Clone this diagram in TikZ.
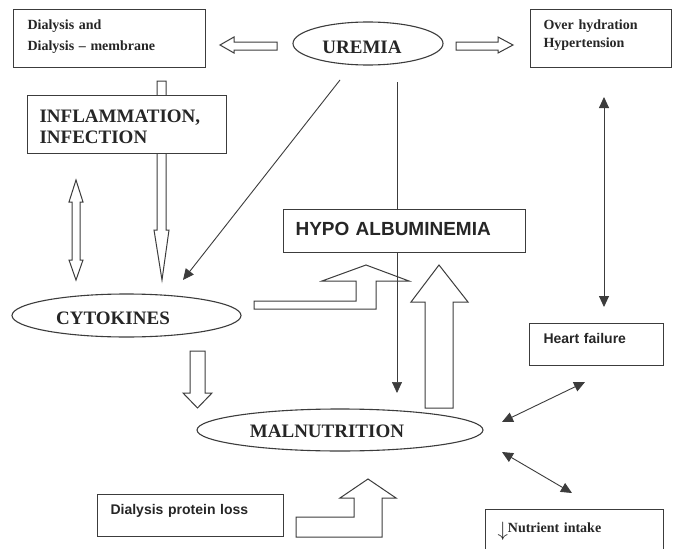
\documentclass[tikz,border=0pt]{standalone}
\usepackage{fontspec}
\setmainfont{Liberation Serif}
\setsansfont{Liberation Sans}
\usetikzlibrary{shapes.geometric,arrows.meta,calc}
\definecolor{ln}{HTML}{3C3C3C}
\definecolor{tx}{HTML}{262626}
\begin{document}
\begin{tikzpicture}[x=1pt,y=-1pt,
  box/.style={draw=ln,line width=1.1pt,fill=white,anchor=north west,align=left,text=tx,text height=10pt},
  oval/.style={ellipse,draw=ln,line width=1.1pt,fill=white,inner sep=0pt,text=tx},
  blk/.style={draw=ln,line width=1pt,fill=white,line join=miter},
  conn/.style={draw=ln,line width=0.9pt},
  tipb/.style={-{Triangle[length=11pt,width=10pt]}},
  tipbb/.style={{Triangle[length=11pt,width=10pt]}-{Triangle[length=11pt,width=10pt]}},
  serS/.style={font=\fontsize{14}{21}\selectfont\bfseries},
  sanS/.style={font=\fontsize{14}{17}\selectfont\sffamily\bfseries},
  bigS/.style={font=\fontsize{19}{19}\selectfont\bfseries}
]
\useasboundingbox (0,0) rectangle (673,549);
\fill[white] (0,0) rectangle (673,549);

% block arrows drawn below boxes
\draw[blk] (157,81) -- (166,81) -- (166,230) -- (169,230) -- (162,280) -- (154,230) -- (157,230) -- cycle;
\draw[blk] (76,180) -- (83,202) -- (80,202) -- (80,260) -- (83,260) -- (76,280) -- (69,260) -- (72,260) -- (72,202) -- (69,202) -- cycle;
\draw[blk] (220,45) -- (234,37) -- (234,42) -- (277,42) -- (277,50) -- (234,50) -- (234,53) -- cycle;
\draw[blk] (456,42) -- (498,42) -- (498,37) -- (513,45) -- (498,53) -- (498,50) -- (456,50) -- cycle;
\draw[blk] (190,351) -- (205,351) -- (205,393) -- (212,393) -- (197.5,408) -- (183,393) -- (190,393) -- cycle;
\draw[blk] (254,301) -- (356,301) -- (356,281) -- (322,281) -- (366,265) -- (409,281) -- (376,281) -- (376,309) -- (254,309) -- cycle;
\draw[blk] (439,265) -- (468,302) -- (453,302) -- (453,408) -- (425,408) -- (425,302) -- (411,302) -- cycle;
\draw[blk] (296,517) -- (354,517) -- (354,498) -- (340,498) -- (368,479) -- (396,498) -- (382,498) -- (382,537) -- (296,537) -- cycle;

% thin vertical line uremia -> malnutrition (behind hypo box)
\coordinate (u2) at (397,82);
\coordinate (m1) at (397,393);
\draw[conn,line width=0.7pt,tipb] (u2) -- (m1);

% boxes
\node[box,serS,minimum width=192pt,minimum height=58pt,text width=164pt,inner xsep=14pt,text depth=27.4pt] (dial) at (13,9) {Dialysis and\\Dialysis – membrane};
\node[box,font=\fontsize{14}{17.4}\selectfont\bfseries,minimum width=141pt,minimum height=58pt,text width=115pt,inner xsep=13pt,text depth=27.4pt] (over) at (530,9) {Over hydration\\Hypertension};
\node[box,font=\fontsize{19}{21.6}\selectfont\bfseries,minimum width=199pt,minimum height=58pt,text width=175pt,inner xsep=12pt,text depth=14.6pt] (infl) at (27,95) {INFLAMMATION,\\INFECTION};
\node[box,font=\fontsize{19}{19}\selectfont\sffamily\bfseries,minimum width=242pt,minimum height=43pt,text width=218pt,inner xsep=12pt,text depth=1pt] (hypo) at (283,209) {HYPO ALBUMINEMIA};
\node[box,sanS,minimum width=134pt,minimum height=42pt,text width=106pt,inner xsep=14pt,text depth=11.4pt] (heart) at (529,323) {Heart failure};
\node[box,sanS,minimum width=186pt,minimum height=42pt,text width=160pt,inner xsep=13pt,text depth=12pt] (dpl) at (97,494) {Dialysis protein loss};
\node[box,serS,minimum width=178pt,minimum height=55pt,text width=154pt,inner xsep=12pt,text depth=19pt] (nutr) at (485,509) {\raisebox{-4pt}{\fontsize{20}{20}\selectfont$\downarrow$}Nutrient intake};

% ellipses
\node[oval,bigS,minimum width=150pt,minimum height=43pt,text height=20pt,text depth=0.4pt] (uremia) at (368,43.5) {UREMIA\hspace*{12pt}};
\node[oval,bigS,minimum width=229pt,minimum height=43pt,text height=18pt,text depth=1pt] (cyto) at (126.5,315.5) {CYTOKINES\hspace*{27pt}};
\node[oval,bigS,minimum width=286pt,minimum height=42pt,text height=16pt,text depth=1.4pt] (maln) at (340,430) {MALNUTRITION\hspace*{26pt}};

% thin connectors
\coordinate (u1) at (340,80);
\coordinate (c1) at (183,280);
\draw[conn,tipb] (u1) -- (c1);
\coordinate (o1) at (604,97);
\coordinate (h1) at (604,307);
\draw[conn,tipbb] (o1) -- (h1);
\coordinate (m2) at (502,422);
\coordinate (h2) at (585,382);
\draw[conn,tipbb] (m2) -- (h2);
\coordinate (m3) at (502,452);
\coordinate (n1) at (572,493);
\draw[conn,tipbb] (m3) -- (n1);
\end{tikzpicture}
\end{document}
